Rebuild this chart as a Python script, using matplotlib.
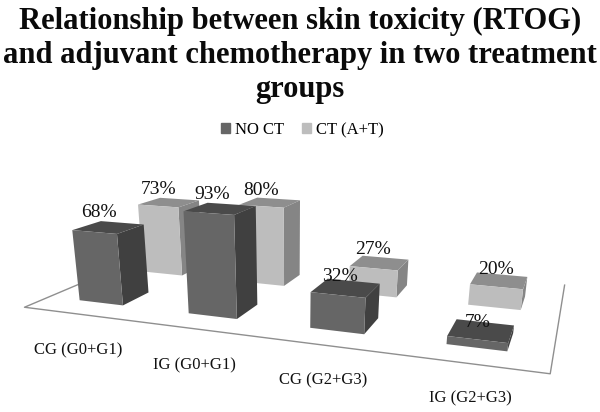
import numpy as np
import matplotlib
matplotlib.use("Agg")
import matplotlib.pyplot as plt
from matplotlib.axes import Axes
from matplotlib.patches import Patch
from mpl_toolkits.mplot3d import proj3d
from mpl_toolkits.mplot3d.art3d import Line3DCollection

categories = ["CG (G0+G1)", "IG (G0+G1)", "CG (G2+G3)", "IG (G2+G3)"]
no_ct = [68, 93, 32, 7]
ct = [73, 80, 27, 20]
title = "Relationship between skin toxicity (RTOG)\nand adjuvant chemotherapy in two treatment\ngroups"

# layout: pixel centres of the category labels, lift of the value labels
cat_label_px = [(78, 350), (194, 365), (323, 380), (470, 398)]
no_ct_lift = [8, 8, 3, -1]
ct_lift = [9, 8, 7, 5]

# perspective camera: world (category, depth, percent) -> image pixels
CAMERA = [
    [97.88697366130295, 32.69758102412554, -0.14225570903495977, 49.572637757727385],
    [-2.9932543420479822, 3.45477178411446, -1.1283872221641678, 296.6320983099953],
    [-0.0505676539324187, 0.05444317211921039, -0.0004906584634331103, 1.0],
]
P = np.array(CAMERA)
M = np.array([P[0], P[1], [0, 1, 0, 0], P[2]])

W, H = 600, 412
fig = plt.figure(figsize=(W/100, H/100), dpi=100)
ax = fig.add_axes([0, 0, 1, 1], projection="3d")
ax.apply_aspect = lambda position=None: None
ax.get_proj = lambda: M
ax.computed_zorder = False
ax.set_xticks([]); ax.set_yticks([]); ax.set_zticks([])
ax.set_axis_off()
ax.viewLim.intervalx = (0, W)
ax.viewLim.intervaly = (H, 0)

serif = "Liberation Serif"
none = (0, 0, 0, 0)
dark = [none, "#4a4a4a", "#666666", none, none, "#404040"]
light = [none, "#8e8e8e", "#bdbdbd", none, none, "#858585"]
width, depth, back = .41, 1, 2.5
yf, yb = -.8, 4.8
floor = Line3DCollection([[(0, 2.5, 0), (0, yf, 0), (4, yf, 0), (4, yb, 0)]],
                         colors="#8f8f8f", linewidths=1, zorder=1)
ax.add_collection3d(floor, autolim=False)

for i, v in enumerate(ct):
    ax.bar3d(i+.5-width/2, back, 0, width, depth, v, color=light, shade=False, edgecolor="none", zorder=2+i)
for i, v in enumerate(no_ct):
    ax.bar3d(i+.5-width/2, 0, 0, width, depth, v, color=dark, shade=False, edgecolor="none", zorder=10+i)
for vals, y, lift in ((no_ct, 0, no_ct_lift), (ct, back, ct_lift)):
    for i, v in enumerate(vals):
        px, py, _ = proj3d.proj_transform(i+.5-.22+.055*i, y+depth, v+lift[i], M)
        Axes.text(ax, px, py, f"{v}%", ha="center", va="center",
                  family=serif, fontsize=14, color="#111111", zorder=30)
for c, (px, py) in zip(categories, cat_label_px):
    fig.text(px/W, 1-py/H, c, ha="center", va="center", family=serif, fontsize=12, color="#111111")

fig.text(.5, 1-7/H, title, ha="center", va="top", family=serif, weight="bold", fontsize=22, linespacing=1.22, color="#0a0a0a")
fig.legend(handles=[Patch(color="#666666", label="NO CT"), Patch(color="#bdbdbd", label="CT (A+T)")],
           loc="center", bbox_to_anchor=(302.5/W, 1-130/H), ncol=2, frameon=False,
           prop={"family": serif, "size": 12}, handlelength=.54, handleheight=.5, handletextpad=.3, columnspacing=1.08)
fig.savefig("out.png", dpi=100)
